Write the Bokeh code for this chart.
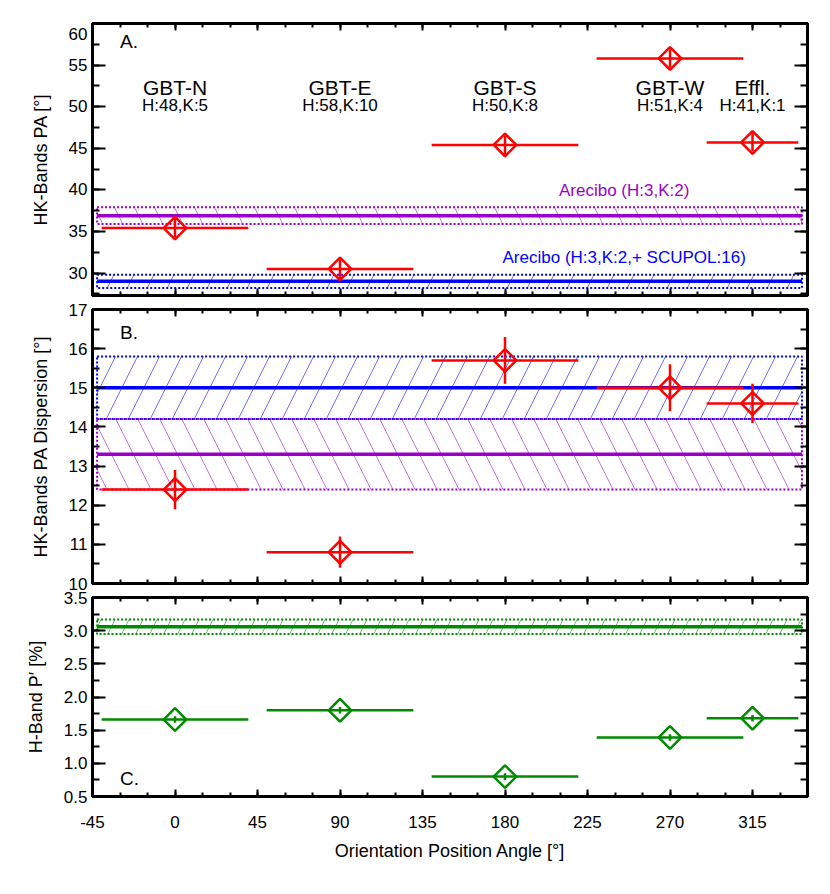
import math
from bokeh.plotting import figure
from bokeh.layouts import column
from bokeh.models import (Range1d, LinearAxis, SingleIntervalTicker, Label,
                          NumeralTickFormatter, ColumnDataSource, CustomJSTickFormatter)
from bokeh.embed import file_html
from bokeh.resources import INLINE

# ---------------- data ----------------
regions = ["GBT-N", "GBT-E", "GBT-S", "GBT-W", "Effl."]
counts = ["H:48,K:5", "H:58,K:10", "H:50,K:8", "H:51,K:4", "H:41,K:1"]
opa = [0, 90, 180, 270, 315]
opa_err = [40, 40, 40, 40, 25]

pa = [35.4, 30.5, 45.4, 55.8, 45.7]
pa_err = [1.1, 1.1, 1.1, 1.1, 1.1]

disp = [12.4, 10.8, 15.7, 15.0, 14.6]
disp_err = [0.5, 0.4, 0.6, 0.6, 0.5]

pol = [1.66, 1.80, 0.80, 1.39, 1.68]
pol_err = [0.05, 0.05, 0.05, 0.05, 0.05]

band_x = [-42.5, 342.0]
arecibo_pa, arecibo_pa_err = 36.9, 1.0
scupol_pa, scupol_pa_err = 29.0, 0.8
arecibo_disp, arecibo_disp_err = 13.3, 0.9
scupol_disp, scupol_disp_err = 15.0, 0.8
arecibo_pol, arecibo_pol_err = 3.06, 0.11

arecibo_label = "Arecibo (H:3,K:2)"
scupol_label = "Arecibo (H:3,K:2,+ SCUPOL:16)"

RED = "#ff0000"
BLUE = "#0000ff"
PURPLE = "#9a00cc"
GREEN = "#008a00"
FONT = "Liberation Sans"

x_range = Range1d(-45, 345)


def make_fig(y0, y1, fh, top, bottom, yint, ylabel, fmt, overrides, xlabels=False):
    p = figure(x_range=x_range, y_range=Range1d(y0, y1), frame_width=715,
               frame_height=fh, min_border_left=92, min_border_right=8,
               min_border_top=top, min_border_bottom=bottom,
               x_axis_type=None, y_axis_type=None, toolbar_location=None,
               output_backend="svg")
    p.outline_line_color = "black"
    p.outline_line_width = 3
    p.background_fill_color = "white"
    p.border_fill_alpha = 0
    for loc in ["below", "above", "left", "right"]:
        if loc in ("below", "above"):
            ax = LinearAxis(ticker=SingleIntervalTicker(interval=45, num_minor_ticks=3))
            ax.major_tick_in, ax.minor_tick_in = 7, 4
        else:
            ax = LinearAxis(ticker=SingleIntervalTicker(interval=yint, num_minor_ticks=2))
            ax.major_tick_in, ax.minor_tick_in = 13, 7
        ax.major_tick_out = 0
        ax.minor_tick_out = 0
        ax.axis_line_width = 3
        ax.major_tick_line_width = 2
        ax.minor_tick_line_width = 2
        ax.major_label_text_font = FONT
        ax.major_label_text_font_size = "17px"
        ax.major_label_text_color = "black"
        ax.axis_label_text_font = FONT
        ax.axis_label_text_font_size = "18px"
        ax.axis_label_text_color = "black"
        ax.axis_label_text_font_style = "normal"
        show = (loc == "left") or (loc == "below" and xlabels)
        if not show:
            ax.formatter = CustomJSTickFormatter(code="return '';")
            ax.major_label_standoff = 0
        if loc == "left":
            ax.major_label_standoff = 5
            ax.axis_label = ylabel
            ax.axis_label_standoff = 15
            ax.formatter = NumeralTickFormatter(format=fmt)
            if overrides:
                ax.major_label_overrides = overrides
        if loc == "below" and xlabels:
            ax.formatter = NumeralTickFormatter(format="0")
            ax.major_label_standoff = 19
            ax.axis_label = "Orientation Position Angle [°]"
            ax.axis_label_standoff = 10
        p.add_layout(ax, loc)
    return p


def band(p, v, e, color, pattern, scale):
    p.quad(left=[band_x[0]], right=[band_x[1]], bottom=[v - e], top=[v + e],
           fill_alpha=0, hatch_pattern=pattern, hatch_color=color,
           hatch_alpha=0.55, hatch_scale=scale, hatch_weight=1,
           line_color=color, line_dash="2 2", line_width=2)
    p.segment(x0=[band_x[0]], x1=[band_x[1]], y0=[v], y1=[v],
              line_color=color, line_width=3.5)


def points(p, y, yerr, color, lw):
    src = ColumnDataSource(dict(
        x=opa, y=y,
        xl=[a - b for a, b in zip(opa, opa_err)],
        xr=[a + b for a, b in zip(opa, opa_err)],
        yl=[a - b for a, b in zip(y, yerr)],
        yh=[a + b for a, b in zip(y, yerr)]))
    p.segment(x0="xl", x1="xr", y0="y", y1="y", source=src, line_color=color, line_width=lw)
    p.segment(x0="x", x1="x", y0="yl", y1="yh", source=src, line_color=color, line_width=lw)
    p.scatter(x="x", y="y", source=src, marker="square", angle=math.pi / 4,
              size=16, fill_color=None, line_color=color, line_width=2.5)


def txt(p, x, y, s, size, color="black", align="center"):
    p.add_layout(Label(x=x, y=y, text=s, text_font=FONT, text_font_size=size,
                       text_color=color, text_align=align, text_baseline="middle"))


# ---------------- Panel A ----------------
pA = make_fig(27.3, 60, 272, 23, 4, 5, "HK-Bands PA [°]", "0", {60: "\n60"})
band(pA, arecibo_pa, arecibo_pa_err, PURPLE, "\\", 40)
band(pA, scupol_pa, scupol_pa_err, BLUE, "/", 40)
points(pA, pa, pa_err, RED, 2.5)
txt(pA, -30, 57.8, "A.", "19px", align="left")
for xx, name, cnt in zip(opa, regions, counts):
    txt(pA, xx, 52.3, name, "21px")
    txt(pA, xx, 50.1, cnt, "17px")
txt(pA, 245, 39.9, arecibo_label, "17px", PURPLE)
txt(pA, 245, 31.9, scupol_label, "17px", BLUE)

# ---------------- Panel B ----------------
pB = make_fig(10, 17, 274, 10, 16, 1, "HK-Bands PA Dispersion [°]", "0", None)
band(pB, scupol_disp, scupol_disp_err, BLUE, "/", 44)
band(pB, arecibo_disp, arecibo_disp_err, PURPLE, "\\", 44)
points(pB, disp, disp_err, RED, 2.5)
txt(pB, -30, 16.42, "B.", "19px", align="left")

# ---------------- Panel C ----------------
pC = make_fig(0.5, 3.5, 199, 16, 82, 0.5, "H-Band P′ [%]", "0.0", None, xlabels=True)
pC.margin = (-18, 0, 0, 0)   # overlap the transparent borders of B and C
band(pC, arecibo_pol, arecibo_pol_err, GREEN, "/", 28)
points(pC, pol, pol_err, GREEN, 2.5)
txt(pC, -30, 0.775, "C.", "19px", align="left")

layout = column(pA, pB, pC, spacing=0)
open("out.html", "w").write(file_html(layout, INLINE))
